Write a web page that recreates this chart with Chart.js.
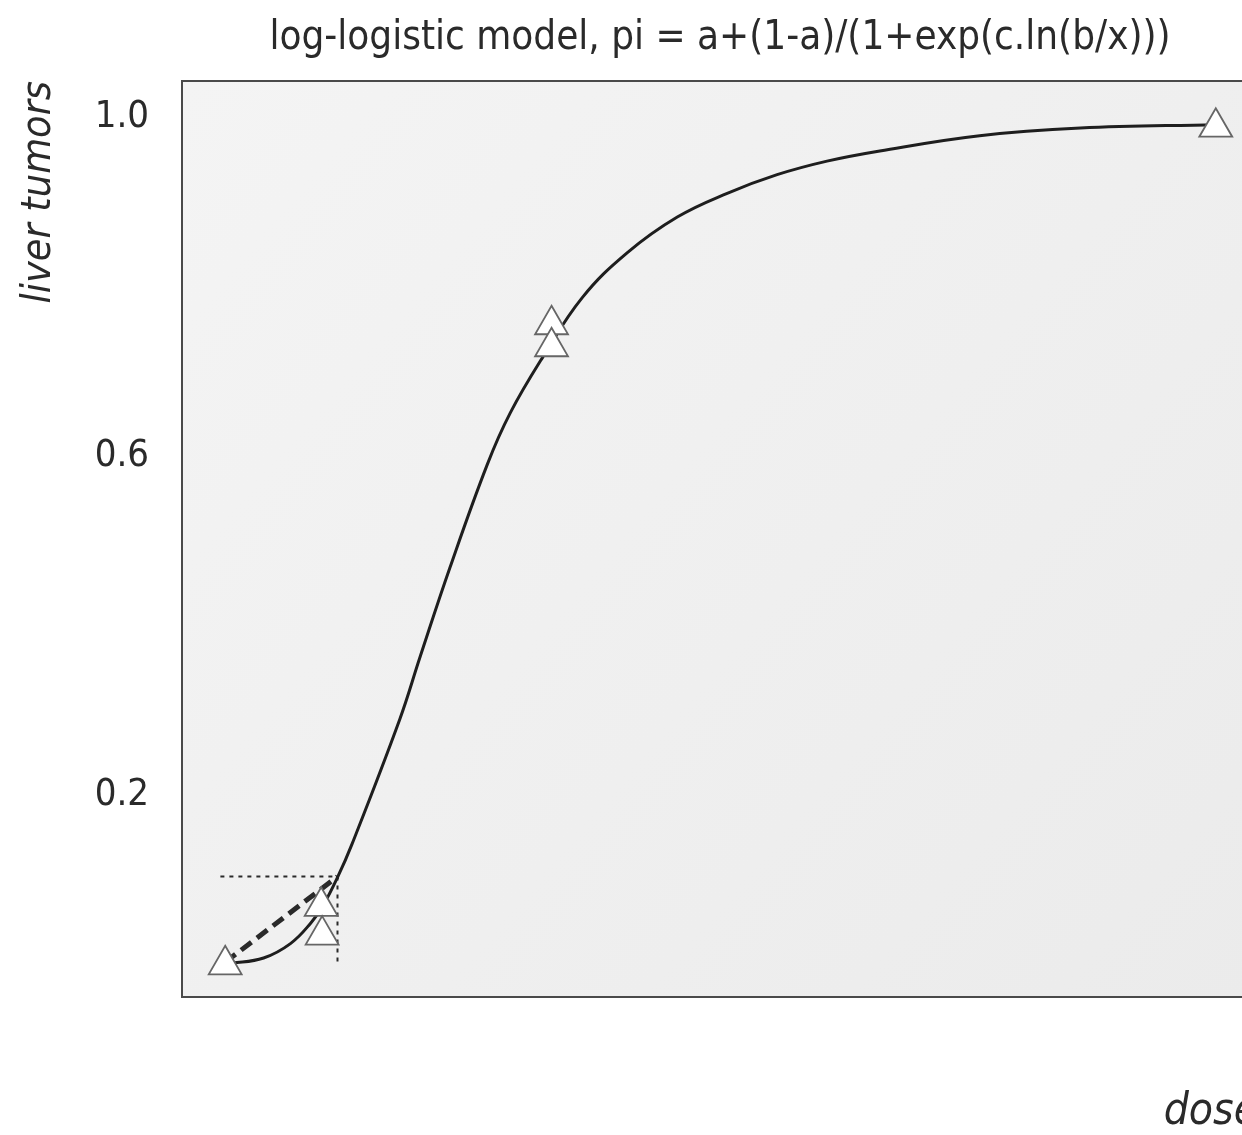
<!DOCTYPE html>
<html>
<head>
<meta charset="utf-8">
<script src="https://cdn.jsdelivr.net/npm/chart.js@4.4.1/dist/chart.umd.min.js"></script>
<style>
  html, body { margin:0; padding:0; background:#fff; overflow:hidden; }
  canvas { display:block; }
</style>
</head>
<body>
<canvas id="chart" width="1260" height="1135"></canvas>
<script>
// observed dose groups (x in arbitrary dose units) and tumour fractions
const doses = [0, 10, 10.1, 34, 34, 103.2];
const tumorRates = [0.0, 0.069, 0.035, 0.755, 0.729, 0.988];

// fitted log-logistic curve
const curveDose = [0, 0.8, 4.0, 6.8, 8.9, 10.2, 11.7, 13.2, 18.2, 20.3, 23.4, 27.3, 29.7, 33.1, 37.2, 41.9, 47.1, 52.3, 57.5, 62.7, 68.2, 78.6, 89.1, 103.2];
const curveRate = [0.002, 0.002, 0.008, 0.025, 0.049, 0.070, 0.103, 0.142, 0.290, 0.363, 0.468, 0.590, 0.651, 0.717, 0.787, 0.840, 0.882, 0.910, 0.932, 0.948, 0.960, 0.978, 0.987, 0.991];

// linear extrapolation (dashed) and the 10% benchmark guides (dotted)
const slopeDose = [0, 11.7];
const slopeRate = [0.003, 0.104];
const guideDose = [-0.5, 11.7, 11.7];
const guideRate = [0.104, 0.104, 0.002];

const yTicks = [0.2, 0.6, 1.0];

const FONT = "'Liberation Sans Narrow', 'DejaVu Sans Condensed', sans-serif";

function pts(xs, ys){ return xs.map((x,i)=>({x:x, y:ys[i]})); }

// grey plot panel with a thin dark frame
const panel = {
  id:"panel",
  beforeDatasetsDraw(chart){
    const {ctx, chartArea:a} = chart;
    ctx.save();
    const g = ctx.createLinearGradient(a.left, a.top, a.right, a.bottom);
    g.addColorStop(0, "#f4f4f4");
    g.addColorStop(1, "#ebebeb");
    ctx.fillStyle = g;
    ctx.fillRect(a.left, a.top, a.right-a.left, a.bottom-a.top);
    ctx.strokeStyle = "#4a4a4a";
    ctx.lineWidth = 2;
    ctx.strokeRect(a.left, a.top, a.right-a.left, a.bottom-a.top);
    ctx.restore();
  }
};

new Chart(document.getElementById("chart"), {
  type:"scatter",
  data:{
    datasets:[
      {
        data: pts(doses, tumorRates),
        pointStyle:"triangle",
        pointRadius:19,
        pointBackgroundColor:"#ffffff",
        pointBorderColor:"#666666",
        pointBorderWidth:1.8,
        showLine:false,
        order:0
      },
      {
        data: pts(curveDose, curveRate),
        showLine:true,
        borderColor:"#1e1e1e",
        borderWidth:3,
        pointRadius:0,
        tension:0.4,
        order:1
      },
      {
        data: pts(slopeDose, slopeRate),
        showLine:true,
        borderColor:"#2a2a2a",
        borderWidth:5,
        borderDash:[13,7],
        pointRadius:0,
        order:2
      },
      {
        data: pts(guideDose, guideRate),
        showLine:true,
        borderColor:"#2a2a2a",
        borderWidth:2,
        borderDash:[4,5],
        pointRadius:0,
        order:3
      }
    ]
  },
  options:{
    responsive:false,
    animation:false,
    // the panel runs past the right edge of the page, as in the scan
    layout:{ autoPadding:false, padding:{ left:0, right:2, top:0, bottom:0 } },
    plugins:{
      legend:{ display:false },
      tooltip:{ enabled:false },
      title:{
        display:true,
        fullSize:false,
        text:"log-logistic model, pi = a+(1-a)/(1+exp(c.ln(b/x)))",
        color:"#2a2a2a",
        font:{ family:FONT, size:40, weight:"normal", lineHeight:1.2 },
        padding:{ top:15, bottom:18 }
      }
    },
    scales:{
      x:{
        type:"linear",
        min:-4.5,
        max:107.6,
        grid:{ display:false },
        border:{ display:false },
        ticks:{ display:false },
        title:{
          display:true,
          text:"dose",
          align:"end",
          color:"#2a2a2a",
          font:{ family:FONT, size:44, style:"italic", lineHeight:1 },
          padding:{ top:0, bottom:0 }
        },
        afterFit(s){ s.height = 138; }
      },
      y:{
        type:"linear",
        min:-0.038,
        max:1.0425,
        grid:{ display:false },
        border:{ display:false },
        afterBuildTicks(s){ s.ticks = yTicks.map(v=>({value:v})); },
        ticks:{
          padding:25,
          color:"#2a2a2a",
          font:{ family:FONT, size:38 },
          callback:(v)=> v.toFixed(1)
        },
        title:{
          display:true,
          text:"liver tumors",
          align:"end",
          color:"#2a2a2a",
          font:{ family:FONT, size:41, style:"italic", lineHeight:1 },
          padding:{ top:19, bottom:0 }
        },
        afterFit(s){ s.width = 182; }
      }
    }
  },
  plugins:[panel]
});
</script>
</body>
</html>
